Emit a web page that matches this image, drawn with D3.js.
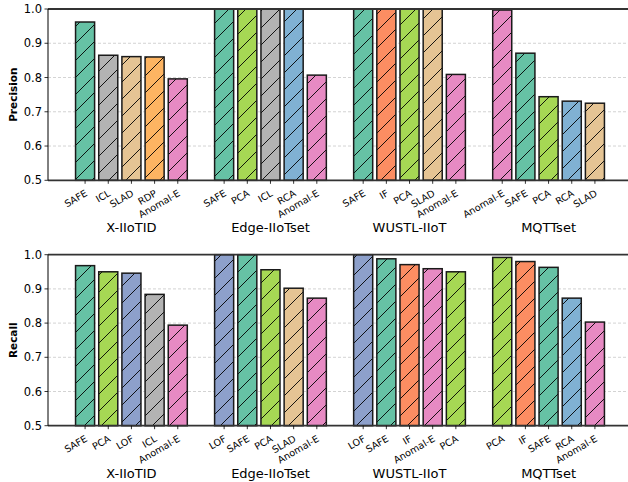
<!DOCTYPE html>
<html>
<head>
<meta charset="utf-8">
<script src="https://cdn.jsdelivr.net/npm/d3@7"></script>
<style>
  body { margin: 0; background: #fff; }
  text { font-family: "DejaVu Sans", sans-serif; }
</style>
</head>
<body>
<svg id="chart" width="628" height="482"></svg>
<script>
// datasets shown on the x axis
const datasets = ["X-IIoTID", "Edge-IIoTset", "WUSTL-IIoT", "MQTTset"];

// precision panel: methods (sorted) and values per dataset
const precMethods = [
  ["SAFE", "ICL", "SLAD", "RDP", "Anomal-E"],
  ["SAFE", "PCA", "ICL", "RCA", "Anomal-E"],
  ["SAFE", "IF", "PCA", "SLAD", "Anomal-E"],
  ["Anomal-E", "SAFE", "PCA", "RCA", "SLAD"]
];
const precValues = [
  [0.962, 0.865, 0.861, 0.860, 0.796],
  [1.0, 1.0, 1.0, 1.0, 0.807],
  [1.0, 1.0, 1.0, 1.0, 0.809],
  [0.997, 0.871, 0.744, 0.731, 0.725]
];

// recall panel
const recMethods = [
  ["SAFE", "PCA", "LOF", "ICL", "Anomal-E"],
  ["LOF", "SAFE", "PCA", "SLAD", "Anomal-E"],
  ["LOF", "SAFE", "IF", "Anomal-E", "PCA"],
  ["PCA", "IF", "SAFE", "RCA", "Anomal-E"]
];
const recValues = [
  [0.968, 0.950, 0.946, 0.884, 0.794],
  [1.0, 1.0, 0.956, 0.902, 0.873],
  [1.0, 0.988, 0.971, 0.959, 0.950],
  [0.992, 0.980, 0.963, 0.873, 0.803]
];

const yTicks = [0.5, 0.6, 0.7, 0.8, 0.9, 1.0];

const methodColors = {
  "SAFE": "#66c2a5",
  "IF": "#fc8d62",
  "LOF": "#8da0cb",
  "Anomal-E": "#e78ac3",
  "PCA": "#a6d854",
  "SLAD": "#e5c494",
  "ICL": "#b3b3b3",
  "RDP": "#fdb462",
  "RCA": "#80b1d3"
};

const svg = d3.select("#chart");

// hatch pattern "/"
const defs = svg.append("defs");
const hatch = defs.append("pattern")
  .attr("id", "hatch")
  .attr("patternUnits", "userSpaceOnUse")
  .attr("width", 17)
  .attr("height", 17);
hatch.append("path")
  .attr("d", "M-2,2 L2,-2 M0,17 L17,0 M15,19 L19,15")
  .attr("stroke", "#000")
  .attr("stroke-width", 0.9);

const x = d3.scaleLinear().domain([-0.6, 3.6]).range([48, 632]);
const step = 1 / 6;
const barW = 0.137;

function panel(top, bottom, label, methods, values) {
  const y = d3.scaleLinear().domain([0.5, 1.0]).range([bottom, top]);
  const g = svg.append("g");

  // grid
  g.append("g")
    .selectAll("line")
    .data(yTicks.slice(1, -1))
    .enter()
    .append("line")
    .attr("x1", x(-0.6))
    .attr("x2", 628)
    .attr("y1", (d) => y(d))
    .attr("y2", (d) => y(d))
    .attr("stroke", "#c8c8c8")
    .attr("stroke-width", 0.8)
    .attr("stroke-dasharray", "3,2");

  const rows = [];
  methods.forEach((ms, i) => {
    ms.forEach((m, j) => {
      rows.push({ group: i, idx: j, method: m, value: values[i][j] });
    });
  });
  const cx = (d) => x(d.group + (d.idx - 2) * step);

  const bars = g.append("g")
    .selectAll("g")
    .data(rows)
    .enter()
    .append("g");

  bars.append("rect")
    .attr("x", (d) => cx(d) - (x(barW) - x(0)) / 2)
    .attr("y", (d) => y(d.value))
    .attr("width", x(barW) - x(0))
    .attr("height", (d) => y(0.5) - y(d.value))
    .attr("fill", (d) => methodColors[d.method]);

  bars.append("rect")
    .attr("x", (d) => cx(d) - (x(barW) - x(0)) / 2)
    .attr("y", (d) => y(d.value))
    .attr("width", x(barW) - x(0))
    .attr("height", (d) => y(0.5) - y(d.value))
    .attr("fill", "url(#hatch)")
    .attr("stroke", "#1a1a1a")
    .attr("stroke-width", 1.5);

  // spines
  g.append("line")
    .attr("x1", x(-0.6)).attr("x2", 628)
    .attr("y1", y(1.0)).attr("y2", y(1.0))
    .attr("stroke", "#333").attr("stroke-width", 1.8);
  g.append("line")
    .attr("x1", x(-0.6)).attr("x2", 628)
    .attr("y1", y(0.5)).attr("y2", y(0.5))
    .attr("stroke", "#333").attr("stroke-width", 1.8);
  g.append("line")
    .attr("x1", x(-0.6)).attr("x2", x(-0.6))
    .attr("y1", y(1.0)).attr("y2", y(0.5))
    .attr("stroke", "#000").attr("stroke-width", 1);

  // y axis ticks
  const yt = g.append("g").selectAll("g").data(yTicks).enter().append("g");
  yt.append("line")
    .attr("x1", x(-0.6) - 3.5).attr("x2", x(-0.6))
    .attr("y1", (d) => y(d)).attr("y2", (d) => y(d))
    .attr("stroke", "#000").attr("stroke-width", 0.8);
  yt.append("text")
    .attr("x", x(-0.6) - 6)
    .attr("y", (d) => y(d))
    .attr("dy", "0.36em")
    .attr("text-anchor", "end")
    .attr("font-size", 11.5)
    .attr("fill", "#000")
    .text((d) => d.toFixed(1));

  svg.append("text")
    .attr("transform", "translate(17," + (top + bottom) / 2 + ") rotate(-90)")
    .attr("text-anchor", "middle")
    .attr("font-size", 10.5)
    .attr("font-weight", "bold")
    .text(label);

  // x ticks per bar
  const xt = g.append("g").selectAll("g").data(rows).enter().append("g");
  xt.append("line")
    .attr("x1", cx).attr("x2", cx)
    .attr("y1", y(0.5)).attr("y2", y(0.5) + 3.5)
    .attr("stroke", "#000").attr("stroke-width", 0.8);
  xt.append("text")
    .attr("transform", (d) => "translate(" + (cx(d) + 3) + "," + (y(0.5) + 15) + ") rotate(-30)")
    .attr("text-anchor", "end")
    .attr("font-size", 9.6)
    .attr("fill", "#000")
    .text((d) => d.method);

  // dataset labels
  g.append("g").selectAll("text").data(datasets).enter().append("text")
    .attr("x", (d, i) => x(i))
    .attr("y", y(0.5) + 52)
    .attr("text-anchor", "middle")
    .attr("font-size", 13)
    .text((d) => d);
}

panel(9, 180.3, "Precision", precMethods, precValues);
panel(254.7, 425.7, "Recall", recMethods, recValues);
</script>
</body>
</html>
